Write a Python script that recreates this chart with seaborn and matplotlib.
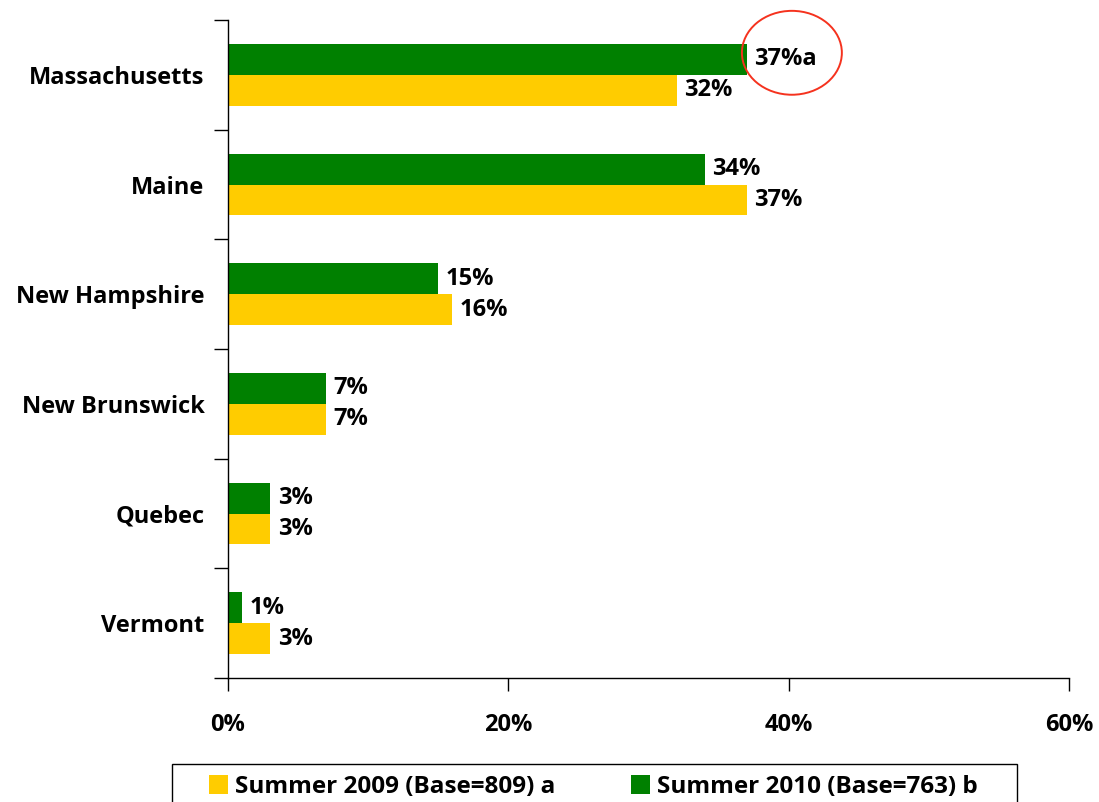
import numpy as np
import pandas as pd
import matplotlib
matplotlib.use("Agg")
import matplotlib.pyplot as plt
import seaborn as sns
from matplotlib.patches import Ellipse, Patch, Rectangle
from matplotlib.ticker import FixedLocator, FuncFormatter

categories = ["Massachusetts", "Maine", "New Hampshire", "New Brunswick", "Quebec", "Vermont"]
summer_2010 = [37, 34, 15, 7, 3, 1]
summer_2009 = [32, 37, 16, 7, 3, 3]
label_2010 = ["37%a", "34%", "15%", "7%", "3%", "1%"]
label_2009 = ["32%", "37%", "16%", "7%", "3%", "3%"]
series_names = ["Summer 2010 (Base=763) b", "Summer 2009 (Base=809) a"]
x_ticks = [0, 20, 40, 60]

sns.set_style("white")
plt.rcParams["font.family"] = ["Open Sans", "DejaVu Sans"]
plt.rcParams["font.weight"] = "bold"
for k in ["text.color", "axes.labelcolor", "xtick.color", "ytick.color"]:
    plt.rcParams[k] = "black"
FS = 17

df = pd.DataFrame({
    "State": categories * 2,
    "Value": summer_2010 + summer_2009,
    "Series": [series_names[0]] * len(categories) + [series_names[1]] * len(categories),
})
palette = {series_names[0]: "#008000", series_names[1]: "#FFCC00"}

W, H = 1099, 802
fig = plt.figure(figsize=(W / 100, H / 100), dpi=100)
ax = fig.add_axes([228 / W, 1 - 678 / H, (1069 - 228) / W, (678 - 20) / H])

sns.barplot(data=df, y="State", x="Value", hue="Series", order=categories,
            hue_order=series_names, palette=palette, orient="h", width=0.564,
            saturation=1, ax=ax, legend=False, linewidth=0)

ax.set_xlim(0, 60)
ax.set_ylim(len(categories) - 0.5, -0.5)
ax.set_xlabel("")
ax.set_ylabel("")
ax.xaxis.set_major_locator(FixedLocator(x_ticks))
ax.xaxis.set_major_formatter(FuncFormatter(lambda v, p: f"{int(v)}%"))
ax.tick_params(axis="x", which="major", bottom=True, direction="out", length=9, width=1,
               color="black", pad=16, labelsize=FS, labelcolor="black")
ax.tick_params(axis="y", which="major", left=True, length=0, pad=17, labelsize=FS,
               labelcolor="black")
ax.yaxis.set_minor_locator(FixedLocator(np.arange(-0.5, len(categories), 1.0)))
ax.tick_params(axis="y", which="minor", left=True, direction="out", length=10, width=1,
               color="black")
for lbl in ax.get_xticklabels() + ax.get_yticklabels():
    lbl.set_fontweight("bold")

for s in ["top", "right"]:
    ax.spines[s].set_visible(False)
for s in ["left", "bottom"]:
    ax.spines[s].set_color("black")
    ax.spines[s].set_linewidth(1)

# value labels
for cont, labels in zip(ax.containers, [label_2010, label_2009]):
    ax.bar_label(cont, labels=labels, padding=5.5, fontsize=FS, fontweight="bold",
                 color="black")

# red ellipse around Massachusetts 2010 label
bw = 0.564 / 2
ell = Ellipse((summer_2010[0] + 3.23, 0 - bw / 2 - 0.06), width=7.13, height=0.765,
              fill=False, edgecolor="#F5321E", linewidth=1.4, clip_on=False)
ax.add_patch(ell)

# legend (frame drawn separately so horizontal padding can differ from vertical)
LFS = 17.5
handles = [Patch(facecolor=palette[series_names[1]], edgecolor="none"),
           Patch(facecolor=palette[series_names[0]], edgecolor="none")]
leg = fig.legend(handles, [series_names[1], series_names[0]], loc="upper left",
                 bbox_to_anchor=(209 / W, 1 - 775 / H), ncol=2, frameon=False,
                 prop={"size": LFS, "weight": "bold"},
                 handlelength=0.78, handleheight=0.78, handletextpad=0.3,
                 columnspacing=3.1, borderpad=0, borderaxespad=0)
fig.add_artist(Rectangle((172 / W, -0.02), (1017 - 172) / W, 0.02 + 1 - 764 / H,
                         transform=fig.transFigure, fill=False, edgecolor="black",
                         linewidth=1))

fig.savefig("out.png", dpi=100)
